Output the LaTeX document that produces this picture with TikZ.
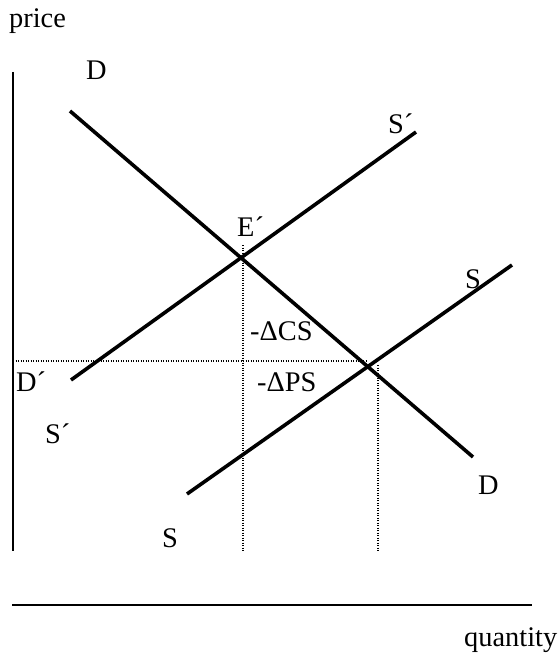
\documentclass[tikz,border=0pt]{standalone}
\usepackage{fontspec}
\setmainfont{Liberation Serif}
\begin{document}
\begin{tikzpicture}[x=1bp,y=-1bp,
  curve/.style={line width=3.6bp},
  axisline/.style={line width=2bp},
  guide/.style={line width=1.2bp,dash pattern=on 1bp off 1.5bp},
  lbl/.style={anchor=base west,inner sep=0pt,font=\fontsize{28.5}{32}\selectfont}]
\useasboundingbox (0,0) rectangle (559,661);
% axes
\coordinate (ytop) at (13,72);
\coordinate (ybot) at (13,551);
\coordinate (xl) at (12,605);
\coordinate (xr) at (532,605);
\draw[axisline] (ytop) -- (ybot);
\draw[axisline] (xl) -- (xr);
% curves
\coordinate (D1) at (70,111);
\coordinate (D2) at (473,457);
\coordinate (Sp1) at (71,380);
\coordinate (Sp2) at (416,132);
\coordinate (S1) at (187,494);
\coordinate (S2) at (512,265);
\draw[curve] (D1) -- (D2);
\draw[curve] (Sp1) -- (Sp2);
\draw[curve] (S1) -- (S2);
% guides
\coordinate (g1t) at (243,245);
\coordinate (g1b) at (243,551);
\coordinate (g2t) at (378,365);
\coordinate (g2b) at (378,551);
\coordinate (h1) at (13,361);
\coordinate (h2) at (367,361);
\draw[guide] (g1t) -- (g1b);
\draw[guide] (g2t) -- (g2b);
\draw[guide] (h1) -- (h2);
% labels
\node[lbl] (price) at (9,28) {price};
\node[lbl] (Dtop) at (86,80) {D};
\node[lbl] (Sptop) at (388,133) {S´};
\node[lbl] (Ep) at (237,236) {E´};
\node[lbl] (Sright) at (465,288) {S};
\node[lbl] (dCS) at (250,340) {-ΔCS};
\node[lbl] (dPS) at (257,391) {-ΔPS};
\node[lbl] (Dp) at (16,391) {D´};
\node[lbl] (Splow) at (45,443) {S´};
\node[lbl] (Dlow) at (478,494) {D};
\node[lbl] (Slow) at (162,547) {S};
\node[lbl] (qty) at (464,646) {quantity};
\end{tikzpicture}
\end{document}
